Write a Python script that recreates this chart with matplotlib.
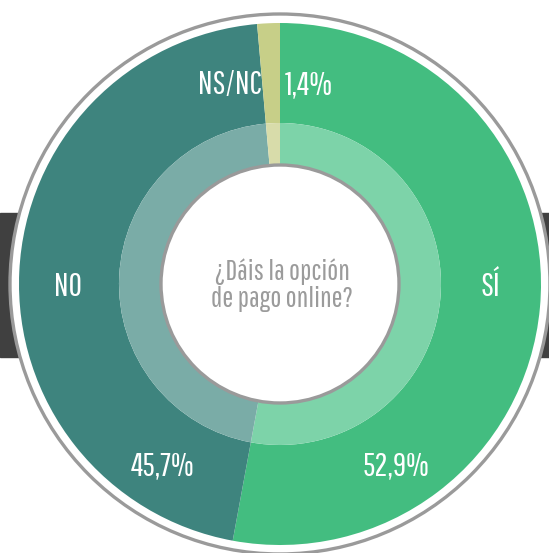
import matplotlib
matplotlib.use("Agg")
import matplotlib.pyplot as plt
from matplotlib.patches import Circle, Rectangle

# Data
labels = ["SÍ", "NO", "NS/NC"]
values = [52.9, 45.7, 1.4]
pct_labels = ["52,9%", "45,7%", "1,4%"]
question = "¿Dáis la opción\nde pago online?"

outer_colors = ["#43bd80", "#3e847e", "#c7cf88"]
inner_colors = ["#7dd3a9", "#7aaca7", "#d8dcaa"]

family = ["Pathway Gothic One", "DejaVu Sans"]

W, H = 549, 553
fig = plt.figure(figsize=(W / 100, H / 100), dpi=100)
ax = fig.add_axes([0, 0, 1, 1])

cx, cy = 280, H - 284

# dark side bars behind the circle
ax.add_patch(Rectangle((0, H - 357), 20, 144, color="#404040", zorder=0))
ax.add_patch(Rectangle((W - 20, H - 357), 20, 144, color="#404040", zorder=0))

# outer white disc with gray rim
ax.add_patch(Circle((cx, cy), 270, facecolor="white", edgecolor="#9a9a9a",
                    linewidth=2.4, zorder=1))

ax.pie(values, colors=outer_colors, radius=261, center=(cx, cy), startangle=90,
       counterclock=False, frame=True,
       wedgeprops=dict(width=261 - 161, linewidth=0))
ax.pie(values, colors=inner_colors, radius=161, center=(cx, cy), startangle=90,
       counterclock=False, frame=True,
       wedgeprops=dict(width=42, linewidth=0))

ax.add_patch(Circle((cx, cy), 119, facecolor="white", edgecolor="#9a9a9a",
                    linewidth=2.4, zorder=5))

ax.set_xlim(0, W)
ax.set_ylim(0, H)
ax.set_aspect("equal")
ax.axis("off")

big = dict(color="white", fontsize=23.5, family=family, zorder=6)
ax.text(490, H - 287, labels[0], ha="center", va="center", **big)
ax.text(68, H - 287, labels[1], ha="center", va="center", **big)
ax.text(262, H - 85, labels[2], ha="right", va="center", **big)
ax.text(396, H - 466, pct_labels[0], ha="center", va="center", **big)
ax.text(163, H - 466, pct_labels[1], ha="center", va="center", **big)
ax.text(285, H - 85, pct_labels[2], ha="left", va="center", **big)

ax.text(cx + 2, H - 285, question, ha="center", va="center", color="#9b9b9b",
        fontsize=21, family=family, linespacing=1.05, zorder=6)

fig.savefig("out.png", dpi=100)
